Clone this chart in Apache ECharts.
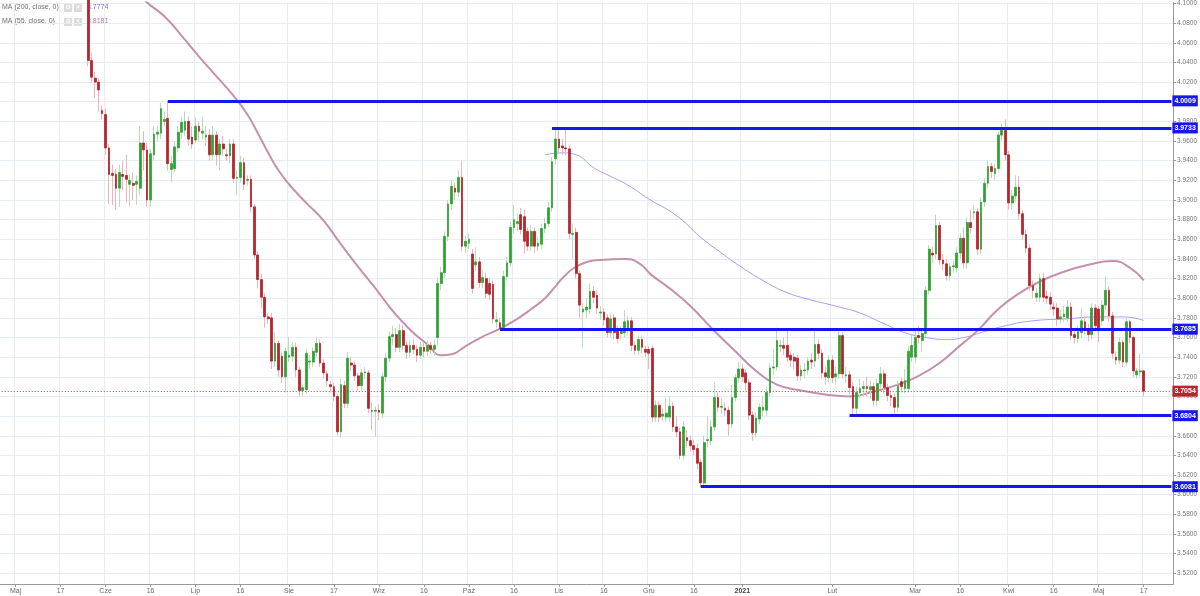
<!DOCTYPE html>
<html><head><meta charset="utf-8">
<script src="https://cdn.jsdelivr.net/npm/echarts@6/dist/echarts.min.js"></script>
<style>html,body{margin:0;padding:0;background:#fff}#c{width:1200px;height:596px}</style>
</head><body><div id="c"></div>
<script>
// ---------- categories (trading days Sun–Fri) ----------
const startDate = '2020-04-27';
const categoryCount = 339;
const firstCandleDate = '2020-05-26';

const tickLabels = [
  ['2020-05-01','Maj'],['2020-05-17','17'],['2020-06-01','Cze'],['2020-06-16','16'],
  ['2020-07-01','Lip'],['2020-07-16','16'],['2020-08-02','Sie'],['2020-08-17','17'],
  ['2020-09-01','Wrz'],['2020-09-16','16'],['2020-10-01','Paź'],['2020-10-16','16'],
  ['2020-11-01','Lis'],['2020-11-16','16'],['2020-12-01','Gru'],['2020-12-16','16'],
  ['2021-01-01','2021'],['2021-02-01','Lut'],['2021-03-01','Mar'],['2021-03-16','16'],
  ['2021-04-01','Kwi'],['2021-04-16','16'],['2021-05-02','Maj'],['2021-05-17','17']
];
const yTicks = [3.52,3.54,3.56,3.58,3.60,3.62,3.64,3.66,3.68,3.70,3.72,3.74,3.76,3.78,3.80,
  3.82,3.84,3.86,3.88,3.90,3.92,3.94,3.96,3.98,4.00,4.02,4.04,4.06,4.08,4.10];

// ---------- OHLC  [open, close, low, high] ----------
const ohlcA = [
[4.118,4.042,4.036,4.128],[4.042,4.025,4.019,4.050],[4.024,4.020,4.004,4.030],[4.020,4.012,3.990,4.024],
[3.991,3.988,3.982,3.996],[3.987,3.953,3.946,3.993],[3.953,3.926,3.896,3.957],[3.927,3.925,3.895,3.936],
[3.926,3.912,3.890,3.931],[3.912,3.928,3.893,3.936],[3.926,3.924,3.910,3.940],[3.925,3.921,3.898,3.946],
[3.916,3.920,3.893,3.926],[3.917,3.915,3.900,3.928],[3.916,3.919,3.895,3.925],[3.912,3.958,3.905,3.975],
[3.958,3.951,3.930,3.970],[3.951,3.900,3.893,3.958],[3.900,3.947,3.893,3.952],[3.946,3.967,3.940,3.975],
[3.967,3.969,3.960,3.976],[3.968,3.993,3.962,3.999],[3.980,3.982,3.975,3.990],[3.983,3.937,3.930,4.001],
[3.931,3.937,3.918,3.945],[3.932,3.954,3.928,3.960],[3.953,3.969,3.948,3.975],[3.969,3.979,3.962,3.985],
[3.971,3.980,3.965,3.990],[3.980,3.962,3.955,3.985],[3.964,3.957,3.952,3.975],[3.961,3.975,3.958,3.984],
[3.975,3.970,3.960,3.980],[3.968,3.970,3.962,3.985],[3.964,3.966,3.955,3.975],[3.966,3.946,3.940,3.972],
[3.946,3.966,3.940,3.975],[3.966,3.946,3.935,3.970],[3.946,3.957,3.930,3.962],[3.957,3.952,3.945,3.965],
[3.946,3.945,3.940,3.952],[3.945,3.957,3.938,3.962],[3.957,3.922,3.917,3.962],[3.922,3.923,3.905,3.930],
[3.923,3.938,3.918,3.945],[3.938,3.916,3.910,3.943],[3.920,3.921,3.915,3.925],[3.921,3.893,3.888,3.925],
[3.893,3.844,3.840,3.896],[3.844,3.819,3.810,3.848],[3.819,3.801,3.790,3.825],[3.801,3.781,3.770,3.805],
[3.781,3.779,3.774,3.785],[3.780,3.736,3.728,3.785],[3.736,3.754,3.730,3.765],[3.754,3.727,3.720,3.757],
[3.741,3.720,3.714,3.745],[3.720,3.746,3.704,3.750],[3.740,3.742,3.735,3.760],[3.741,3.750,3.735,3.755],
[3.750,3.727,3.720,3.755],[3.727,3.706,3.700,3.730]
];
const ohlcB = [
[3.706,3.709,3.700,3.713],[3.707,3.744,3.703,3.748],[3.735,3.736,3.728,3.742],[3.735,3.746,3.730,3.750],
[3.745,3.754,3.740,3.760],[3.754,3.734,3.730,3.758],[3.734,3.724,3.718,3.738],[3.723,3.716,3.710,3.727],
[3.712,3.710,3.704,3.716],[3.710,3.700,3.695,3.714],[3.700,3.664,3.660,3.703],[3.664,3.712,3.658,3.718],
[3.711,3.693,3.688,3.716],[3.693,3.739,3.688,3.745],[3.734,3.732,3.726,3.740],[3.732,3.721,3.716,3.736],
[3.721,3.711,3.706,3.724],[3.711,3.724,3.706,3.728],[3.724,3.725,3.718,3.730],[3.724,3.688,3.683,3.727],
[3.6855,3.685,3.666,3.694],[3.685,3.686,3.659,3.690],[3.686,3.684,3.676,3.692],[3.683,3.720,3.678,3.724],
[3.720,3.739,3.715,3.744],[3.739,3.761,3.735,3.766],[3.761,3.763,3.752,3.772],[3.763,3.750,3.745,3.770],
[3.750,3.767,3.745,3.774],[3.767,3.752,3.747,3.772],[3.752,3.745,3.738,3.756],[3.745,3.752,3.740,3.757],
[3.752,3.748,3.743,3.758],[3.748,3.742,3.735,3.752],[3.742,3.750,3.738,3.756],[3.750,3.746,3.740,3.755],
[3.746,3.752,3.741,3.757],[3.752,3.748,3.743,3.756],[3.748,3.752,3.742,3.758],[3.760,3.815,3.752,3.820],
[3.815,3.826,3.808,3.832],[3.826,3.863,3.820,3.868],[3.863,3.896,3.858,3.900],[3.896,3.914,3.890,3.920],
[3.912,3.908,3.900,3.918],[3.908,3.923,3.903,3.930],[3.923,3.853,3.848,3.940],[3.853,3.858,3.846,3.864],
[3.856,3.860,3.850,3.866],[3.845,3.810,3.805,3.850],[3.834,3.837,3.828,3.852],[3.837,3.816,3.810,3.842],
[3.816,3.821,3.810,3.828],[3.820,3.805,3.800,3.826],[3.815,3.804,3.798,3.820],[3.814,3.779,3.774,3.818],
[3.776,3.778,3.770,3.786],[3.775,3.769,3.7685,3.780],[3.770,3.822,3.768,3.828],[3.822,3.836,3.818,3.842],
[3.836,3.872,3.832,3.878],[3.872,3.880,3.866,3.895],[3.876,3.878,3.868,3.886],[3.885,3.870,3.865,3.892],
[3.883,3.858,3.845,3.890],[3.868,3.853,3.848,3.872],[3.853,3.868,3.848,3.874],[3.868,3.853,3.846,3.872],
[3.853,3.856,3.848,3.862],[3.855,3.871,3.850,3.876],[3.871,3.876,3.866,3.882],[3.876,3.892,3.872,3.898],
[3.892,3.939,3.888,3.944],[3.942,3.962,3.936,3.9733],[3.962,3.953,3.948,3.972],[3.955,3.953,3.946,3.962],
[3.953,3.952,3.945,3.971],[3.952,3.866,3.860,3.956],[3.865,3.866,3.840,3.876],[3.867,3.825,3.820,3.872],
[3.825,3.793,3.780,3.828],[3.786,3.789,3.749,3.795],[3.788,3.791,3.780,3.800],[3.789,3.807,3.784,3.815],
[3.807,3.801,3.795,3.812],[3.803,3.790,3.784,3.808]
];
const ohlcC = [
[3.785,3.786,3.778,3.792],[3.786,3.778,3.772,3.790],[3.780,3.765,3.760,3.784],[3.765,3.779,3.760,3.784],
[3.780,3.765,3.758,3.784],[3.767,3.759,3.754,3.772],[3.764,3.767,3.758,3.772],[3.765,3.776,3.760,3.788],
[3.767,3.777,3.762,3.782],[3.777,3.752,3.746,3.781],[3.752,3.747,3.742,3.756],[3.747,3.758,3.742,3.762],
[3.758,3.750,3.744,3.762],[3.748,3.745,3.740,3.752],[3.748,3.744,3.728,3.751],[3.749,3.679,3.674,3.752],
[3.679,3.691,3.674,3.696],[3.691,3.679,3.674,3.695],[3.680,3.682,3.675,3.688],[3.679,3.683,3.674,3.699],
[3.679,3.690,3.674,3.700],[3.690,3.669,3.664,3.694],[3.669,3.664,3.658,3.680],[3.664,3.640,3.636,3.668],
[3.640,3.669,3.636,3.675],[3.658,3.655,3.648,3.666],[3.655,3.650,3.644,3.660],[3.650,3.646,3.640,3.656],
[3.647,3.632,3.626,3.652],[3.633,3.612,3.6081,3.637],[3.612,3.653,3.609,3.660],[3.655,3.656,3.648,3.680],
[3.655,3.669,3.650,3.676],[3.669,3.699,3.665,3.714],[3.699,3.689,3.684,3.704],[3.689,3.690,3.682,3.698],
[3.688,3.686,3.680,3.694],[3.686,3.672,3.660,3.690],[3.672,3.699,3.668,3.712],[3.699,3.719,3.695,3.723],
[3.719,3.728,3.714,3.735],[3.728,3.720,3.715,3.733],[3.724,3.714,3.706,3.728],[3.714,3.681,3.676,3.718],
[3.681,3.663,3.655,3.685],[3.663,3.678,3.658,3.684],[3.677,3.689,3.672,3.693],[3.686,3.689,3.680,3.700],
[3.686,3.704,3.680,3.710],[3.704,3.729,3.700,3.734],[3.729,3.730,3.722,3.748],[3.730,3.757,3.726,3.770],
[3.751,3.752,3.745,3.758],[3.752,3.749,3.742,3.760],[3.752,3.740,3.735,3.768],[3.742,3.737,3.730,3.746],
[3.740,3.736,3.728,3.744],[3.739,3.721,3.716,3.742],[3.721,3.727,3.716,3.732],[3.726,3.727,3.718,3.734],
[3.727,3.736,3.722,3.740],[3.737,3.735,3.728,3.744],[3.736,3.753,3.730,3.768],[3.753,3.744,3.738,3.758],
[3.744,3.724,3.718,3.748],[3.724,3.720,3.712,3.730],[3.719,3.737,3.714,3.742],[3.737,3.719,3.714,3.742],
[3.720,3.723,3.712,3.730],[3.723,3.762,3.718,3.768],[3.762,3.723,3.718,3.766],[3.721,3.722,3.714,3.730],
[3.722,3.709,3.702,3.726],[3.710,3.688,3.6805,3.714],[3.688,3.704,3.682,3.710],[3.704,3.708,3.698,3.718],
[3.708,3.710,3.700,3.716],[3.710,3.708,3.700,3.720]
];
const ohlcD = [
[3.707,3.710,3.698,3.716],[3.710,3.696,3.690,3.714],[3.696,3.713,3.690,3.718],[3.713,3.723,3.708,3.730],
[3.723,3.709,3.703,3.727],[3.709,3.701,3.695,3.713],[3.701,3.699,3.690,3.706],[3.699,3.689,3.6805,3.703],
[3.689,3.711,3.684,3.716],[3.715,3.710,3.704,3.719],[3.708,3.716,3.703,3.728],[3.708,3.746,3.704,3.751],
[3.740,3.752,3.735,3.764],[3.740,3.760,3.734,3.768],[3.762,3.760,3.754,3.772],[3.757,3.764,3.745,3.770],
[3.764,3.808,3.760,3.812],[3.808,3.850,3.804,3.854],[3.846,3.844,3.836,3.852],[3.845,3.874,3.840,3.885],
[3.874,3.839,3.834,3.878],[3.839,3.835,3.828,3.845],[3.835,3.823,3.818,3.840],[3.823,3.832,3.818,3.836],
[3.832,3.833,3.826,3.838],[3.831,3.846,3.826,3.852],[3.846,3.861,3.840,3.866],[3.861,3.836,3.830,3.872],
[3.836,3.877,3.830,3.882],[3.877,3.872,3.866,3.890],[3.887,3.888,3.880,3.895],[3.888,3.850,3.844,3.892],
[3.850,3.898,3.845,3.903],[3.898,3.917,3.893,3.922],[3.917,3.934,3.912,3.940],[3.934,3.929,3.922,3.938],
[3.927,3.932,3.920,3.937],[3.932,3.966,3.928,3.970],[3.966,3.971,3.960,3.978],[3.971,3.946,3.940,3.982],
[3.946,3.897,3.890,3.950],[3.897,3.904,3.890,3.910],[3.904,3.913,3.898,3.925],[3.913,3.886,3.880,3.924],
[3.886,3.865,3.860,3.890],[3.865,3.851,3.846,3.870],[3.851,3.813,3.808,3.855],[3.813,3.808,3.800,3.818],
[3.801,3.805,3.796,3.810],[3.801,3.820,3.796,3.825],[3.820,3.801,3.796,3.826],[3.802,3.800,3.794,3.808],
[3.801,3.794,3.788,3.806],[3.791,3.789,3.782,3.796],[3.790,3.779,3.772,3.795],[3.779,3.781,3.774,3.788],
[3.781,3.784,3.776,3.792],[3.780,3.791,3.776,3.798],[3.791,3.762,3.757,3.796],[3.763,3.760,3.754,3.768],
[3.759,3.766,3.754,3.772],[3.765,3.777,3.760,3.790],[3.776,3.769,3.763,3.782],[3.769,3.763,3.756,3.774],
[3.763,3.790,3.758,3.795],[3.790,3.772,3.766,3.794],[3.789,3.769,3.755,3.792],[3.777,3.793,3.772,3.798],
[3.793,3.808,3.788,3.822],[3.808,3.782,3.776,3.812],[3.782,3.744,3.738,3.786],[3.740,3.737,3.732,3.746],
[3.737,3.755,3.733,3.760],[3.755,3.735,3.730,3.758],[3.735,3.776,3.731,3.779],[3.776,3.760,3.754,3.778],
[3.760,3.726,3.720,3.762],[3.722,3.726,3.718,3.729],[3.725,3.726,3.720,3.744],[3.726,3.7054,3.700,3.727]
];

// ---------- moving averages: [category index, value] ----------
const ma55Points = [[38,4.116],[42,4.101],[47,4.087],[52,4.067],[57,4.046],[62,4.026],[67,4.006],[71,3.987],
  [74,3.968],[77,3.948],[80,3.930],[84,3.912],[88,3.897],[93,3.879],[98,3.855],[103,3.832],[108,3.810],
  [113,3.787],[118,3.768],[123,3.753],[127,3.742],[130,3.743],[134,3.751],[139,3.761],[144,3.769],[149,3.779],
  [153,3.789],[157,3.800],[160,3.812],[163,3.824],[167,3.834],[173,3.839],[180,3.840],[184,3.836],[188,3.823],
  [193,3.810],[199,3.792],[205,3.770],[212,3.746],[218,3.726],[224,3.712],[231,3.706],[238,3.702],[245,3.700],
  [252,3.705],[259,3.712],[265,3.721],[271,3.734],[277,3.752],[282,3.767],[288,3.789],[294,3.805],[300,3.817],
  [307,3.827],[314,3.834],[321,3.838],[326,3.831],[330,3.8181]];
const ma200Points = [[157,3.946],[162,3.948],[166,3.946],[171,3.933],[176,3.924],[181,3.915],[187,3.901],
  [195,3.884],[202,3.862],[208,3.846],[214,3.831],[220,3.818],[226,3.807],[233,3.799],[241,3.792],[248,3.785],
  [255,3.774],[261,3.765],[267,3.760],[273,3.758],[278,3.760],[284,3.766],[290,3.772],[298,3.777],[308,3.779],
  [316,3.781],[324,3.781],[330,3.7774]];

// ---------- horizontal levels ----------
const levelValues = [4.0009, 3.9733, 3.7685, 3.6804, 3.6081];
const levelStarts = ['2020-06-22', '2020-10-29', '2020-10-12', '2021-02-07', '2020-12-18'];
const lastPrice = 3.7054;
const legendRows = [['MA (200, close, 0)', '3.7774'], ['MA (55, close, 0)', '3.8181']];

// ---------- build ----------
function fmt(d){return d.toISOString().slice(0,10);}
const categories = [];
{ let d = new Date(startDate + 'T00:00:00Z');
  while (categories.length < categoryCount) { if (d.getUTCDay() !== 6) categories.push(fmt(d)); d = new Date(d.getTime() + 86400000); } }
const labelMap = new Map(tickLabels);
const firstIdx = categories.indexOf(firstCandleDate);
const ohlc = ohlcA.concat(ohlcB, ohlcC, ohlcD);
const wickData = ohlc.map((r,k) => [categories[firstIdx+k], r[0], r[1], r[2], r[3]]);
const bodyData = ohlc.map((r,k) => [categories[firstIdx+k], r[0], r[1], Math.min(r[0],r[1]), Math.max(r[0],r[1])]);
const ma55Data = ma55Points.map(p => [categories[p[0]], p[1]]);
const ma200Data = ma200Points.map(p => [categories[p[0]], p[1]]);
const lastCat = categories[categories.length-1];

const FONT = 'Liberation Sans, Arial, sans-serif';
const blue = '#1616f2';
const levelLines = levelValues.map((v,i) => [
  {coord:[levelStarts[i], v], value: v},
  {coord:[lastCat, v], value: v}
]);
const priceLine = [[{coord:[categories[0], lastPrice], value:lastPrice},{coord:[lastCat, lastPrice], value:lastPrice}]];

const chart = echarts.init(document.getElementById('c'), null, {renderer:'canvas'});
const showCat = (idx, val) => labelMap.has(val);

chart.setOption({
  animation: false,
  backgroundColor: '#ffffff',
  textStyle: {fontFamily: FONT},
  grid: {left: 0, right: 26, top: 0, bottom: 12},
  xAxis: {
    type: 'category', data: categories, boundaryGap: true,
    axisLine: {lineStyle: {color: '#9a9a9a', width: 1}},
    axisTick: {show: true, interval: showCat, alignWithLabel: true, length: 3, lineStyle: {color: '#9a9a9a'}},
    axisLabel: {interval: showCat, formatter: v => v === '2021-01-01' ? '{b|2021}' : (labelMap.get(v) || ''),
      fontSize: 7, color: '#6a6a6a', margin: 4, fontFamily: FONT,
      rich: {b: {fontWeight: 'bold', fontSize: 7, color: '#444', fontFamily: FONT}}},
    splitLine: {show: true, interval: showCat, lineStyle: {color: '#e6edf3', width: 1}}
  },
  yAxis: {
    type: 'value', position: 'right', min: 3.5091, max: 4.101, scale: true,
    axisLine: {show: true, lineStyle: {color: '#9a9a9a', width: 1}},
    axisTick: {show: true, customValues: yTicks, length: 3, lineStyle: {color: '#9a9a9a'}},
    axisLabel: {customValues: yTicks, formatter: v => v.toFixed(4), fontSize: 6.5, color: '#777', margin: 4, fontFamily: FONT},
    splitLine: {show: true, lineStyle: {color: '#e6edf3', width: 1}}
  },
  series: [
    {
      type: 'line', name: 'MA200', data: ma200Data, smooth: 0.5, symbol: 'none',
      lineStyle: {color: '#ab9cf2', width: 1}, z: 1, silent: true
    },
    {
      type: 'line', name: 'MA55', data: ma55Data, smooth: 0.5, symbol: 'none',
      lineStyle: {color: '#c690ad', width: 2}, z: 1, silent: true
    },
    {
      type: 'candlestick', name: 'wicks', data: wickData, encode: {x: 0, y: [1,2,3,4]},
      barWidth: 0.6, clip: true, silent: true, z: 2,
      itemStyle: {color: 'rgba(0,0,0,0)', color0: 'rgba(0,0,0,0)', borderColor: '#b6deb6', borderColor0: '#f2b3b8', borderWidth: 1}
    },
    {
      type: 'candlestick', name: 'bodies', data: bodyData, encode: {x: 0, y: [1,2,3,4]},
      barWidth: 2.2, clip: true, silent: true, z: 3,
      itemStyle: {color: '#33a236', color0: '#b5262d', borderColor: '#33a236', borderColor0: '#b5262d', borderWidth: 0.8},
      markLine: {
        silent: true, symbol: ['none','none'], animation: false,
        data: levelLines,
        lineStyle: {color: blue, width: 3, type: 'solid'},
        label: {show: true, position: 'end', distance: 1, formatter: p => Number(p.value).toFixed(4),
          backgroundColor: blue, color: '#fff', fontSize: 7, fontWeight: 'bold', padding: [2,2,2,2], fontFamily: FONT},
        emphasis: {disabled: true}
      }
    },
    {
      type: 'line', name: 'price', data: [], silent: true, z: 4,
      markLine: {
        silent: true, symbol: ['none','none'], animation: false,
        data: priceLine,
        lineStyle: {color: '#c2454c', width: 1, type: [1, 2]},
        label: {show: true, position: 'end', distance: 1, formatter: p => Number(p.value).toFixed(4),
          backgroundColor: '#b5262d', color: '#fff', fontSize: 7, fontWeight: 'bold', padding: [2,2,2,2], fontFamily: FONT},
        emphasis: {disabled: true}
      }
    }
  ],
  graphic: legendRows.flatMap((row, r) => {
    const y = 4 + r * 14;
    const valColor = r === 0 ? '#8a63ee' : '#c57aa2';
    return [
      {type: 'text', left: 2, top: y, z: 0, style: {text: row[0], fill: '#6f6f6f', fontSize: 7, fontFamily: FONT}},
      {type: 'rect', left: 64, top: y, z: 0, shape: {width: 8, height: 8}, style: {fill: '#dcdcdc'}},
      {type: 'text', left: 65.5, top: y + 0.5, z: 0, style: {text: '⚙', fill: '#fff', fontSize: 6, fontFamily: 'DejaVu Sans'}},
      {type: 'rect', left: 74, top: y, z: 0, shape: {width: 8, height: 8}, style: {fill: '#dcdcdc'}},
      {type: 'text', left: 75.5, top: y + 0.5, z: 0, style: {text: '✕', fill: '#fff', fontSize: 6, fontFamily: 'DejaVu Sans'}},
      {type: 'text', left: 87, top: y, z: 0, style: {text: row[1], fill: valColor, fontSize: 7, fontFamily: FONT}}
    ];
  })
});
</script></body></html>
